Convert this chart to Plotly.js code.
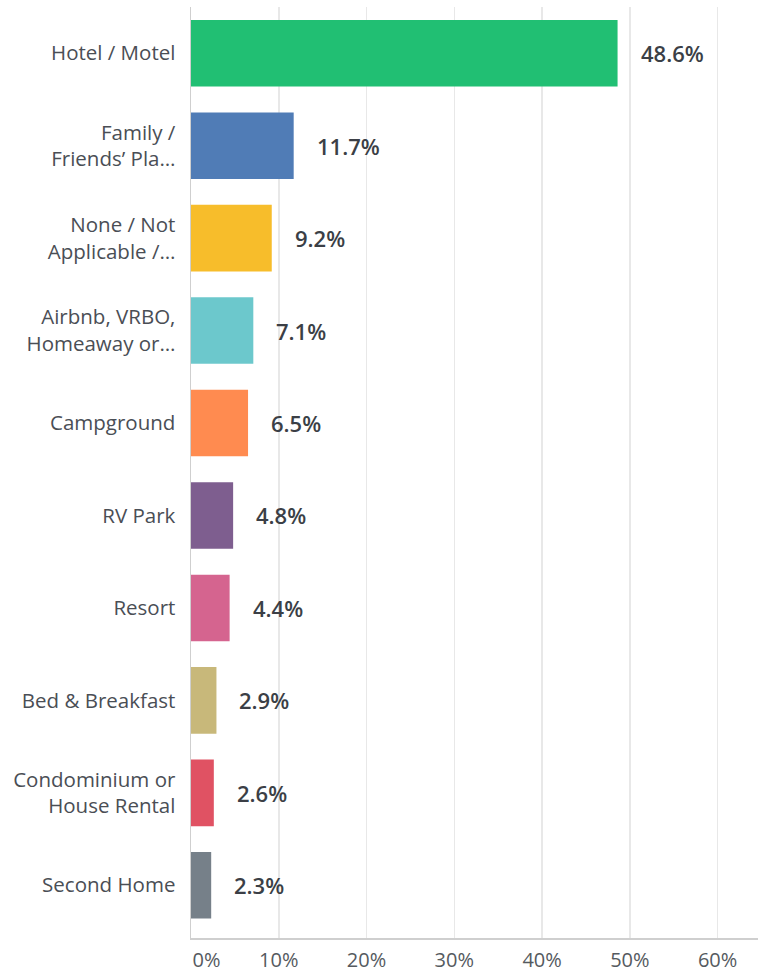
<!DOCTYPE html>
<html>
<head>
<meta charset="utf-8">
<script src="https://cdn.plot.ly/plotly-3.0.1.min.js"></script>
<style>html,body{margin:0;padding:0;background:#fff;}#chart{width:758px;height:977px;}</style>
</head>
<body>
<div id="chart"></div>
<script>
const categories = [
  "Hotel / Motel",
  "Family /<br>Friends’ Pla…",
  "None / Not<br>Applicable /…",
  "Airbnb, VRBO,<br>Homeaway or…",
  "Campground",
  "RV Park",
  "Resort",
  "Bed & Breakfast",
  "Condominium or<br>House Rental",
  "Second Home"
];
const values = [48.6, 11.7, 9.2, 7.1, 6.5, 4.8, 4.4, 2.9, 2.6, 2.3];
const valueLabels = ["48.6%", "11.7%", "9.2%", "7.1%", "6.5%", "4.8%", "4.4%", "2.9%", "2.6%", "2.3%"];
const barColors = ["#21bf73", "#507cb6", "#f7bd2b", "#6cc8cc", "#ff8b50", "#7e5e8f", "#d5648f", "#c8b87a", "#e05263", "#768089"];
const tickVals = [0, 10, 20, 30, 40, 50, 60];
const tickText = ["0%", "10%", "20%", "30%", "40%", "50%", "60%"];

const FONT = "Open Sans, sans-serif";

const trace = {
  type: "bar",
  orientation: "h",
  y: categories,
  x: values,
  marker: { color: barColors },
  width: 0.72,
  hoverinfo: "none"
};

const annotations = values.map((v, i) => ({
  x: v, y: categories[i], xref: "x", yref: "y",
  text: valueLabels[i], showarrow: false,
  xanchor: "left", xshift: 21,
  font: { family: FONT, size: 22, color: "#3b3f46", weight: 600 }
}));

// shift the first tick label so it starts at the axis (as in reference)
const shownTickText = tickText.map((t, i) => i === 0 ? "\u00a0\u00a0\u00a0\u00a0\u00a0\u00a0" + t : t);

const layout = {
  width: 758, height: 977,
  margin: { l: 191, r: 0, t: 7, b: 39 },
  paper_bgcolor: "#fff", plot_bgcolor: "#fff",
  showlegend: false,
  bargap: 0.28,
  xaxis: {
    range: [0, 64.6],
    tickvals: tickVals, ticktext: shownTickText,
    showgrid: true, gridcolor: "#e8e8e8", gridwidth: 1.5,
    zeroline: false,
    showline: true, linecolor: "#cfcfcf", linewidth: 2,
    ticks: "outside", ticklen: 3, tickcolor: "rgba(0,0,0,0)",
    tickfont: { family: FONT, size: 20, color: "#555a60" },
    fixedrange: true
  },
  yaxis: {
    type: "category",
    range: [9.57, -0.5],
    showgrid: false, zeroline: false,
    showline: true, linecolor: "#cfcfcf", linewidth: 1.5,
    ticks: "outside", ticklen: 10, tickcolor: "rgba(0,0,0,0)",
    tickfont: { family: FONT, size: 20.5, color: "#4a4e55" },
    fixedrange: true
  },
  annotations: annotations
};

Plotly.newPlot("chart", [trace], layout, { displayModeBar: false, staticPlot: true });
</script>
</body>
</html>
